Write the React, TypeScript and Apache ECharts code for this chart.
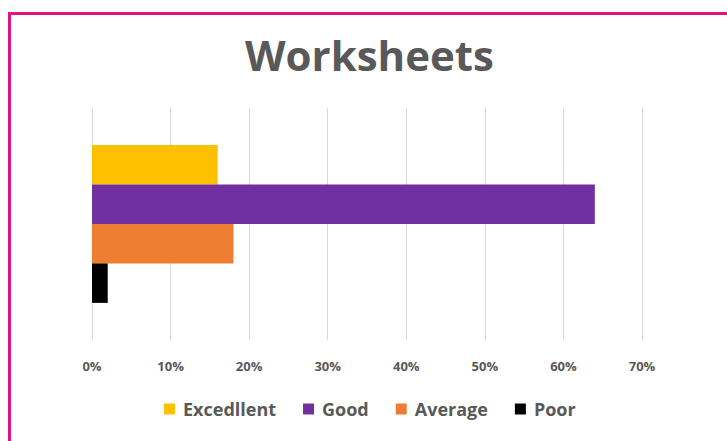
import React, { useEffect, useRef } from "react";
import * as echarts from "echarts";

const categories = ["Worksheets"];
const seriesNames = ["Excedllent", "Good", "Average", "Poor"];
const excellentValues = [16];
const goodValues = [64];
const averageValues = [18];
const poorValues = [2];
const seriesColors = ["#FFC000", "#7030A0", "#ED7D31", "#000000"];
const xTicks = [0, 10, 20, 30, 40, 50, 60, 70];

export default function App() {
  const ref = useRef<HTMLDivElement>(null);
  useEffect(() => {
    if (!ref.current) return;
    const chart = echarts.init(ref.current, null, { renderer: "svg" });
    const allValues = [excellentValues, goodValues, averageValues, poorValues];
    chart.setOption({
      animation: false,
      backgroundColor: "#ffffff",
      title: {
        text: "Worksheets",
        left: 240,
        top: 28,
        textStyle: {
          fontFamily: "Open Sans",
          fontWeight: "bold",
          fontSize: 42,
          color: "#595959",
        },
      },
      graphic: [
        {
          type: "line",
          shape: { x1: 9.5, y1: 13.5, x2: 727, y2: 13.5 },
          style: { stroke: "#E2137D", lineWidth: 3 },
          silent: true,
        },
        {
          type: "line",
          shape: { x1: 9.5, y1: 12, x2: 9.5, y2: 441 },
          style: { stroke: "#E2137D", lineWidth: 3 },
          silent: true,
        },
      ],
      legend: {
        bottom: 18,
        left: 159,
        itemWidth: 11,
        itemHeight: 11,
        itemGap: 27,
        icon: "rect",
        textStyle: {
          fontFamily: "Open Sans",
          fontWeight: "bold",
          fontSize: 18,
          color: "#595959",
          padding: [0, 0, 0, 3],
        },
        data: seriesNames,
      },
      grid: { left: 92, right: 85, top: 108, bottom: 101 },
      xAxis: {
        type: "value",
        min: xTicks[0],
        max: xTicks[xTicks.length - 1],
        interval: 10,
        axisLine: { show: false },
        axisTick: { show: false },
        splitLine: { lineStyle: { color: "#d9d9d9", width: 1 } },
        axisLabel: {
          formatter: "{value}%",
          margin: 19,
          fontFamily: "Open Sans",
          fontWeight: "bold",
          fontSize: 13,
          color: "#595959",
        },
      },
      yAxis: {
        type: "category",
        data: categories,
        inverse: true,
        axisLine: { show: false },
        axisTick: { show: false },
        axisLabel: { show: false },
      },
      series: seriesNames.map((name, i) => ({
        name,
        type: "bar",
        data: allValues[i],
        barGap: "0%",
        barCategoryGap: "32%",
        itemStyle: { color: seriesColors[i] },
      })),
    });
    return () => chart.dispose();
  }, []);
  return (
    <div
      ref={ref}
      style={{ position: "absolute", left: 0, top: 0, width: 727, height: 441 }}
    />
  );
}
